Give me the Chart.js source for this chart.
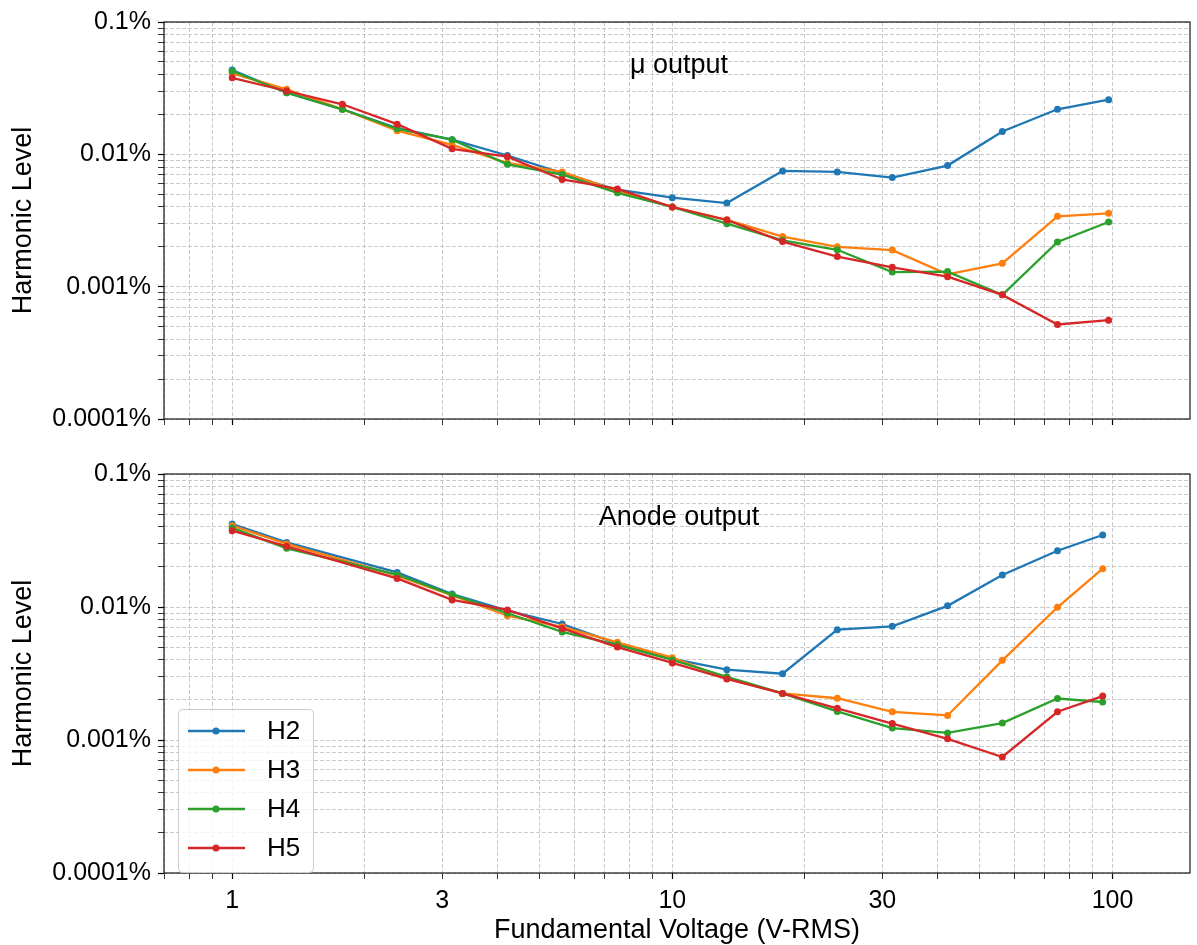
<!DOCTYPE html>
<html>
<head>
<meta charset="utf-8">
<script src="https://cdn.jsdelivr.net/npm/chart.js@4.4.0/dist/chart.umd.min.js"></script>
<style>
  html, body { margin: 0; padding: 0; background: #fff; }
  #wrap { position: relative; width: 1197px; height: 945px; }
  #topChart { position: absolute; left: 0; top: 0; }
  #bottomChart { position: absolute; left: 0; top: 445px; }
</style>
</head>
<body>
<div id="wrap">
  <canvas id="topChart" width="1197" height="445"></canvas>
  <canvas id="bottomChart" width="1197" height="500"></canvas>
</div>
<script>
// series names and colours
var seriesNames = ['H2', 'H3', 'H4', 'H5'];
var seriesColors = ['#1f77b4', '#ff7f0e', '#2ca02c', '#d62728'];

// mu output (top panel), harmonic level in %
var muVolts = [1, 1.33, 1.78, 2.37, 3.16, 4.22, 5.62, 7.5, 10, 13.3, 17.8, 23.7, 31.6, 42.2, 56.2, 75, 98];
var muH2 = [0.0433, 0.0292, 0.0219, 0.0158, 0.0129, 0.0098, 0.0072, 0.0054, 0.0047, 0.00428, 0.00749, 0.00736, 0.00668, 0.00822, 0.0149, 0.0219, 0.0259];
var muH3 = [0.0409, 0.0310, 0.0219, 0.0151, 0.0118, 0.0086, 0.00736, 0.0053, 0.0040, 0.0032, 0.00239, 0.0020, 0.00189, 0.00124, 0.0015, 0.0034, 0.00358];
var muH4 = [0.0426, 0.0292, 0.0219, 0.0156, 0.0129, 0.0084, 0.00703, 0.00512, 0.0040, 0.00299, 0.00224, 0.0019, 0.00129, 0.0013, 0.000867, 0.00218, 0.00308];
var muH5 = [0.0379, 0.0301, 0.0239, 0.0169, 0.0110, 0.0096, 0.00646, 0.00548, 0.0040, 0.00319, 0.00219, 0.00169, 0.0014, 0.00119, 0.000867, 0.000518, 0.000558];

// anode output (bottom panel)
var anodeVolts = [1, 1.33, 2.37, 3.16, 4.22, 5.62, 7.5, 10, 13.3, 17.8, 23.7, 31.6, 42.2, 56.2, 75, 95];
var anodeH2 = [0.0421, 0.0306, 0.0182, 0.0125, 0.0094, 0.00745, 0.0053, 0.00407, 0.00338, 0.00315, 0.00675, 0.00716, 0.0102, 0.0174, 0.0265, 0.0348];
var anodeH3 = [0.0409, 0.0298, 0.0172, 0.0122, 0.0086, 0.0071, 0.00543, 0.00416, 0.0029, 0.00224, 0.00206, 0.00163, 0.00153, 0.00397, 0.00995, 0.0194];
var anodeH4 = [0.0393, 0.0276, 0.0175, 0.01237, 0.00897, 0.0065, 0.0052, 0.0040, 0.00299, 0.00224, 0.00164, 0.00123, 0.00113, 0.00134, 0.00205, 0.00193];
var anodeH5 = [0.0375, 0.0286, 0.0164, 0.0113, 0.0095, 0.0069, 0.0050, 0.0038, 0.00288, 0.00224, 0.00173, 0.00133, 0.00102, 0.000745, 0.00163, 0.00214];

// axes
var xRange = [0.7, 150];
var yRange = [0.0001, 0.1];
var xTickLabels = [1, 3, 10, 30, 100];
var yTickValues = [0.0001, 0.001, 0.01, 0.1];
var yTickLabels = ['0.0001%', '0.001%', '0.01%', '0.1%'];

var FONT = '"Liberation Sans", Arial, Helvetica, sans-serif';

function logTicks(min, max) {
  var ticks = [];
  for (var e = Math.floor(Math.log10(min)); e <= Math.ceil(Math.log10(max)); e++) {
    for (var m = 1; m < 10; m++) {
      var v = m * Math.pow(10, e);
      if (v >= min * 0.9999 && v <= max * 1.0001) ticks.push({ value: v, major: m === 1 });
    }
  }
  return ticks;
}

function sameValue(a, b) {
  return Math.abs(a - b) / b < 1e-6;
}

function makeDatasets(volts, series) {
  return series.map(function(vals, i) {
    return {
      label: seriesNames[i],
      data: vals.map(function(v, j) { return { x: volts[j], y: v }; }),
      borderColor: seriesColors[i],
      backgroundColor: seriesColors[i],
      borderWidth: 2.3,
      pointRadius: 3.5,
      pointBorderWidth: 0,
      pointBackgroundColor: seriesColors[i],
      order: series.length - i
    };
  });
}

var framePlugin = {
  id: 'frame',
  afterDraw: function(chart) {
    var a = chart.chartArea, ctx = chart.ctx;
    ctx.save();
    ctx.strokeStyle = '#000';
    ctx.lineWidth = 1.1;
    ctx.strokeRect(a.left, a.top, a.right - a.left, a.bottom - a.top);
    ctx.restore();
  }
};

function insetText(text) {
  return {
    id: 'inset',
    afterDatasetsDraw: function(chart) {
      var a = chart.chartArea, ctx = chart.ctx;
      ctx.save();
      ctx.font = '27px ' + FONT;
      ctx.fillStyle = '#000';
      ctx.textAlign = 'center';
      ctx.textBaseline = 'middle';
      ctx.fillText(text, (a.left + a.right) / 2 + 2, a.top + 44);
      ctx.restore();
    }
  };
}

var legendPlugin = {
  id: 'boxLegend',
  afterDraw: function(chart) {
    var a = chart.chartArea, ctx = chart.ctx;
    var x0 = a.left + 14, y0 = a.bottom - 164, w = 135, h = 163;
    ctx.save();
    ctx.fillStyle = 'rgba(255,255,255,0.8)';
    ctx.strokeStyle = '#cccccc';
    ctx.lineWidth = 1;
    ctx.beginPath();
    ctx.roundRect(x0 + 0.5, y0 + 0.5, w, h, 4);
    ctx.fill();
    ctx.stroke();
    ctx.font = '26px ' + FONT;
    ctx.textBaseline = 'middle';
    ctx.textAlign = 'left';
    seriesNames.forEach(function(name, i) {
      var cy = y0 + 22 + i * 39;
      ctx.strokeStyle = seriesColors[i];
      ctx.lineWidth = 2.3;
      ctx.beginPath();
      ctx.moveTo(x0 + 10, cy);
      ctx.lineTo(x0 + 67, cy);
      ctx.stroke();
      ctx.fillStyle = seriesColors[i];
      ctx.beginPath();
      ctx.arc(x0 + 38, cy, 3.5, 0, Math.PI * 2);
      ctx.fill();
      ctx.fillStyle = '#000';
      ctx.fillText(name, x0 + 89, cy + 1);
    });
    ctx.restore();
  }
};

function makeChart(canvasId, volts, series, text, isBottom) {
  var plugins = [framePlugin, insetText(text)];
  if (isBottom) plugins.push(legendPlugin);
  return new Chart(document.getElementById(canvasId).getContext('2d'), {
    type: 'line',
    data: { datasets: makeDatasets(volts, series) },
    plugins: plugins,
    options: {
      responsive: false,
      animation: false,
      devicePixelRatio: 1,
      layout: { padding: { top: isBottom ? 29 : 20, right: 7, left: 0, bottom: 0 } },
      plugins: { legend: { display: false }, tooltip: { enabled: false } },
      scales: {
        x: {
          type: 'logarithmic',
          min: xRange[0],
          max: xRange[1],
          afterBuildTicks: function(scale) { scale.ticks = logTicks(xRange[0], xRange[1]); },
          afterFit: function(scale) { scale.height = isBottom ? 72 : 26; },
          border: { display: false, dash: [4, 2] },
          grid: {
            color: '#bdbdbd',
            lineWidth: 0.8,
            tickLength: 6,
            tickColor: '#000',
            tickWidth: function(ctx) { return ctx.tick && ctx.tick.major ? 1.2 : 0.8; }
          },
          ticks: {
            display: isBottom,
            autoSkip: false,
            maxRotation: 0,
            padding: 7,
            color: '#000',
            font: { family: FONT, size: 25 },
            callback: function(value) {
              for (var i = 0; i < xTickLabels.length; i++) {
                if (sameValue(value, xTickLabels[i])) return String(xTickLabels[i]);
              }
              return '';
            }
          },
          title: {
            display: isBottom,
            text: 'Fundamental Voltage (V-RMS)',
            color: '#000',
            font: { family: FONT, size: 27, lineHeight: 1.0 },
            padding: { top: 0, bottom: 1 }
          }
        },
        y: {
          type: 'logarithmic',
          min: yRange[0],
          max: yRange[1],
          afterBuildTicks: function(scale) { scale.ticks = logTicks(yRange[0], yRange[1]); },
          afterFit: function(scale) { scale.width = 164; },
          border: { display: false, dash: [4, 2] },
          grid: {
            color: '#bdbdbd',
            lineWidth: 0.8,
            tickLength: 6,
            tickColor: '#000',
            tickWidth: function(ctx) { return ctx.tick && ctx.tick.major ? 1.2 : 0.8; }
          },
          ticks: {
            autoSkip: false,
            padding: 7,
            color: '#000',
            font: { family: FONT, size: 25 },
            callback: function(value) {
              for (var i = 0; i < yTickValues.length; i++) {
                if (sameValue(value, yTickValues[i])) return yTickLabels[i];
              }
              return '';
            }
          },
          title: {
            display: true,
            text: 'Harmonic Level',
            color: '#000',
            font: { family: FONT, size: 27, lineHeight: 1.2 },
            padding: { top: 7, bottom: 0 }
          }
        }
      }
    }
  });
}

makeChart('topChart', muVolts, [muH2, muH3, muH4, muH5], 'μ output', false);
makeChart('bottomChart', anodeVolts, [anodeH2, anodeH3, anodeH4, anodeH5], 'Anode output', true);
</script>
</body>
</html>
